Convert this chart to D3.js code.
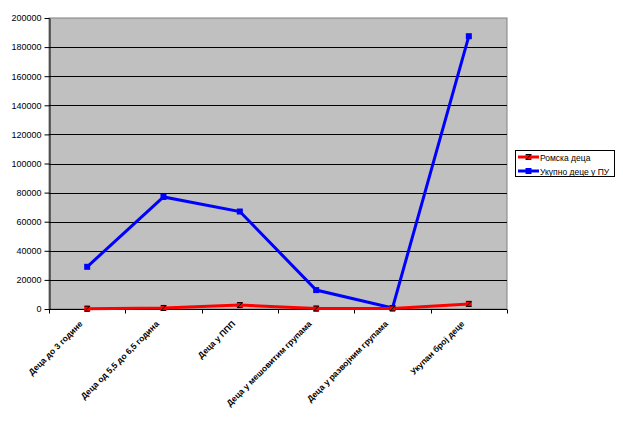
<!DOCTYPE html>
<html><head><meta charset="utf-8">
<script src="https://cdn.jsdelivr.net/npm/d3@7"></script>
<style>body{margin:0;background:#fff}svg{display:block}</style>
</head><body>
<svg id="c" width="623" height="426"></svg>
<script>
const categories = ["Деца до 3 године","Деца од 5,5 до 6,5 година","Деца у ППП","Деца у мешовитим групама","Деца у развојним групама","Укупан број деце"];
const seriesNames = ["Ромска деца","Укупно деце у ПУ"];
const romaValues = [200, 700, 2700, 300, 400, 3500];
const totalValues = [29000, 77000, 67000, 13000, 700, 187500];
const yTicks = [0,20000,40000,60000,80000,100000,120000,140000,160000,180000,200000];

const svg = d3.select("#c");
const L=49, R=507, T=18, B=309;
const x = d3.scaleBand().domain(categories).range([L,R]).padding(0);
const y = d3.scaleLinear().domain([0,200000]).range([B,T]);
const font = "Liberation Sans, Arial, sans-serif";

svg.append("rect").attr("x",L).attr("y",T).attr("width",R-L).attr("height",B-T).attr("fill","#C0C0C0").attr("stroke","#808080");
svg.append("g").selectAll("line").data(yTicks.filter(d=>d>0 && d<200000)).join("line")
  .attr("x1",L).attr("x2",R).attr("y1",d=>Math.round(y(d))+0.5).attr("y2",d=>Math.round(y(d))+0.5)
  .attr("stroke","#000").attr("stroke-width",1);

const ya = svg.append("g").attr("transform",`translate(${L+0.5},0)`)
  .call(d3.axisLeft(y).tickValues(yTicks).tickSize(5).tickPadding(3).tickSizeOuter(0).tickFormat(d3.format("d")));
ya.select(".domain").attr("stroke","#000");
ya.selectAll(".tick line").attr("stroke","#000");
ya.selectAll("text").attr("font-family",font).attr("font-size",9).attr("fill","#000");

const xa = svg.append("g").attr("transform",`translate(0,${B+0.5})`);
xa.append("line").attr("x1",L).attr("x2",R).attr("stroke","#000");
const bounds = categories.map(c=>x(c)).concat([R]);
xa.selectAll(".tk").data(bounds).join("line").attr("class","tk")
  .attr("x1",d=>Math.round(d)+0.5).attr("x2",d=>Math.round(d)+0.5).attr("y1",0).attr("y2",4).attr("stroke","#000");
xa.selectAll("text").data(categories).join("text")
  .attr("transform",d=>`translate(${x(d)+x.bandwidth()/2-4},${15}) rotate(-45)`)
  .attr("text-anchor","end").attr("font-family",font).attr("font-size",8.5).attr("font-weight","bold").attr("fill","#000")
  .text(d=>d);

const cx = d=>x(d)+x.bandwidth()/2;
const line = d3.line().x(d=>cx(d.c)).y(d=>y(d.v));
const roma = categories.map((c,i)=>({c,v:romaValues[i]}));
const total = categories.map((c,i)=>({c,v:totalValues[i]}));

svg.append("path").datum(total).attr("d",line).attr("fill","none").attr("stroke","#0000FF").attr("stroke-width",3);
svg.append("path").datum(roma).attr("d",line).attr("fill","none").attr("stroke","#FF0000").attr("stroke-width",3);

svg.append("g").selectAll("rect").data(total).join("rect")
  .attr("x",d=>cx(d.c)-3).attr("y",d=>y(d.v)-3).attr("width",6).attr("height",6).attr("fill","#0000FF");

function romaMarker(g,px,py){
  g.append("rect").attr("x",px-3).attr("y",py-3).attr("width",6).attr("height",6).attr("fill","#FF0000");
  g.append("path").attr("d",`M${px-2.5},${py-2.5}L${px+2.5},${py-2.5}L${px-2.5},${py+2.5}L${px+2.5},${py+2.5}`)
   .attr("fill","none").attr("stroke","#000").attr("stroke-width",1);
}
const rm = svg.append("g");
roma.forEach(d=>romaMarker(rm,cx(d.c),y(d.v)));

const lg = svg.append("g");
lg.append("rect").attr("x",515.5).attr("y",150.5).attr("width",99).attr("height",26).attr("fill","#fff").attr("stroke","#000");
const ly=[157,171];
lg.append("line").attr("x1",518).attr("x2",539).attr("y1",ly[0]).attr("y2",ly[0]).attr("stroke","#FF0000").attr("stroke-width",3);
romaMarker(lg,528.5,ly[0]);
lg.append("line").attr("x1",518).attr("x2",539).attr("y1",ly[1]).attr("y2",ly[1]).attr("stroke","#0000FF").attr("stroke-width",3);
lg.append("rect").attr("x",525.5).attr("y",ly[1]-3).attr("width",6).attr("height",6).attr("fill","#0000FF");
lg.selectAll("text").data(seriesNames).join("text")
  .attr("x",540).attr("y",(d,i)=>ly[i]+3.5).attr("font-family",font).attr("font-size",8.5).attr("fill","#000").text(d=>d);
</script>
</body></html>
